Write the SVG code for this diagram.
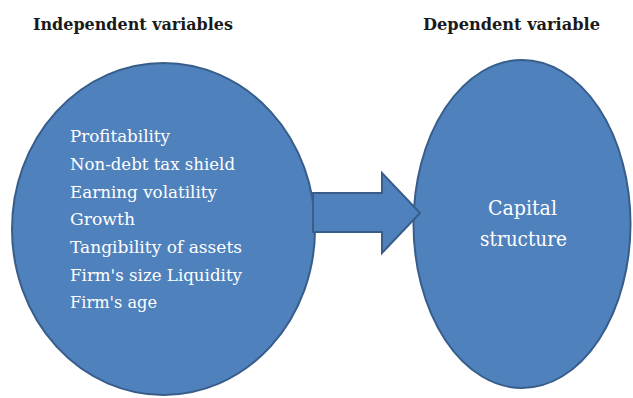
<svg xmlns="http://www.w3.org/2000/svg" width="633" height="398" viewBox="0 0 633 398">
<style>
.shape{fill:#4F81BD;stroke:#385D8A;stroke-width:2}
.hdr{font-family:"DejaVu Serif",serif;font-weight:bold;font-size:17.5px;fill:#1a1a1a}
.lbl{font-family:"DejaVu Serif",serif;font-size:16.5px;fill:#ffffff}
.cap{font-family:"DejaVu Serif",serif;font-size:20px;fill:#ffffff}
</style>
<rect width="633" height="398" fill="#ffffff"/>
<text class="hdr" x="33" y="30" textLength="200" lengthAdjust="spacingAndGlyphs">Independent variables</text>
<text class="hdr" x="423" y="30" textLength="177" lengthAdjust="spacingAndGlyphs">Dependent variable</text>
<g id="independent">
<ellipse class="shape" cx="163.5" cy="229" rx="151.5" ry="166"/>
<text class="lbl" x="70" y="142" textLength="100" lengthAdjust="spacingAndGlyphs">Profitability</text>
<text class="lbl" x="70" y="170" textLength="165" lengthAdjust="spacingAndGlyphs">Non-debt tax shield</text>
<text class="lbl" x="70" y="198" textLength="147" lengthAdjust="spacingAndGlyphs">Earning volatility</text>
<text class="lbl" x="70" y="225" textLength="65" lengthAdjust="spacingAndGlyphs">Growth</text>
<text class="lbl" x="70" y="253" textLength="172" lengthAdjust="spacingAndGlyphs">Tangibility of assets</text>
<text class="lbl" x="70" y="281" textLength="172" lengthAdjust="spacingAndGlyphs">Firm's size Liquidity</text>
<text class="lbl" x="70" y="308" textLength="87" lengthAdjust="spacingAndGlyphs">Firm's age</text>
</g>
<g id="dependent">
<ellipse class="shape" cx="522" cy="224" rx="108.5" ry="164"/>
<text class="cap" x="488" y="215" textLength="69" lengthAdjust="spacingAndGlyphs">Capital</text>
<text class="cap" x="480" y="246" textLength="87" lengthAdjust="spacingAndGlyphs">structure</text>
</g>
<g id="connectors">
<path class="shape" d="M313,193 L382,193 L382,173 L420,213 L382,253 L382,232 L313,232 Z"/>
</g>
</svg>
